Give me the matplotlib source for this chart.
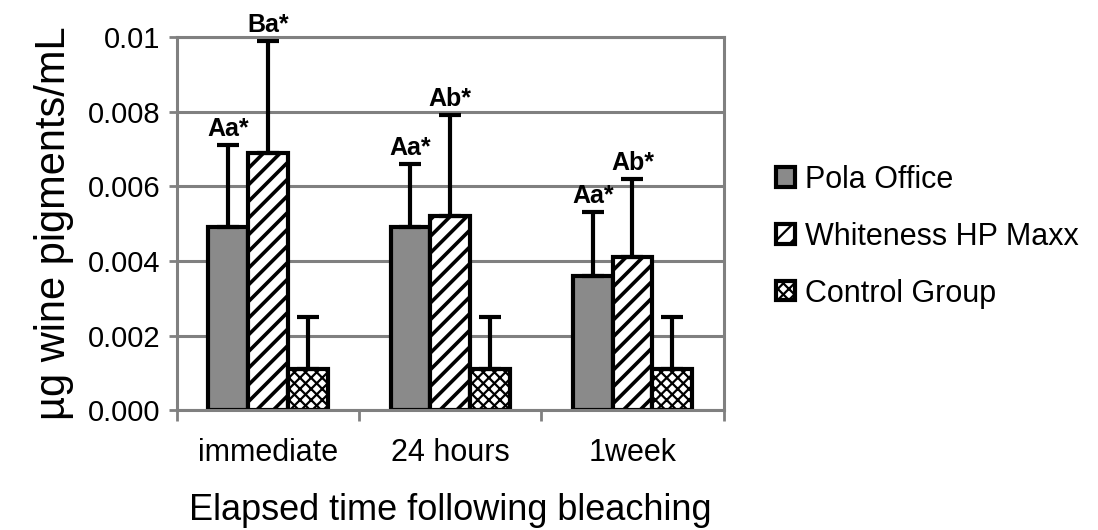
import numpy as np
import matplotlib
matplotlib.use('Agg')
import matplotlib.pyplot as plt

categories = ['immediate', '24 hours', '1week']
series_names = ['Pola Office', 'Whiteness HP Maxx', 'Control Group']

pola = [0.0049, 0.0049, 0.0036]
pola_err = [0.0022, 0.0017, 0.0017]
white = [0.0069, 0.0052, 0.0041]
white_err = [0.0030, 0.0027, 0.0021]
control = [0.0011, 0.0011, 0.0011]
control_err = [0.0014, 0.0014, 0.0014]

pola_labels = ['Aa*', 'Aa*', 'Aa*']
white_labels = ['Ba*', 'Ab*', 'Ab*']

yticks = [0.0, 0.002, 0.004, 0.006, 0.008, 0.01]
yticklabels = ['0.000', '0.002', '0.004', '0.006', '0.008', '0.01']

plt.rcParams['font.family'] = ['Liberation Sans', 'DejaVu Sans']
plt.rcParams['hatch.linewidth'] = 1.6

fig = plt.figure(figsize=(10.98, 5.30), dpi=100)
ax = fig.add_axes([0.161, 0.226, 0.498, 0.704])

x = np.arange(len(categories))
w = 0.218
grey = '#808080'

ax.set_axisbelow(True)
ax.yaxis.grid(True, color=grey, lw=2.2)

err_kw = dict(ecolor='black', elinewidth=3.0, capsize=8, capthick=3.0)
lowerr = [0, 0, 0]

b1 = ax.bar(x - w, pola, w, color='#8a8a8a', edgecolor='black', lw=3.0,
            yerr=[lowerr, pola_err], error_kw=err_kw, label=series_names[0])
with plt.rc_context({'hatch.linewidth': 2.6}):
    b2 = ax.bar(x, white, w, color='white', edgecolor='black', lw=3.0, hatch='//',
                yerr=[lowerr, white_err], error_kw=err_kw, label=series_names[1])
with plt.rc_context({'hatch.linewidth': 1.6}):
    b3 = ax.bar(x + w, control, w, color='white', edgecolor='black', lw=3.0, hatch='xxx',
                yerr=[lowerr, control_err], error_kw=err_kw, label=series_names[2])

for i in range(len(categories)):
    ax.annotate(pola_labels[i], (x[i] - w, pola[i] + pola_err[i]), xytext=(0, 3),
                textcoords='offset points', ha='center', va='bottom',
                fontsize=18, fontweight='bold', annotation_clip=False)
    ax.annotate(white_labels[i], (x[i], white[i] + white_err[i]), xytext=(0, 3),
                textcoords='offset points', ha='center', va='bottom',
                fontsize=18, fontweight='bold', annotation_clip=False)

ax.set_xlim(-0.5, 2.5)
ax.set_ylim(0, 0.01)
ax.set_yticks(yticks)
ax.set_yticklabels(yticklabels)
ax.set_xticks(x)
ax.set_xticklabels(categories)
ax.set_xticks([-0.5, 0.5, 1.5, 2.5], minor=True)
ax.tick_params(axis='x', which='major', length=0, labelsize=22, pad=20)
ax.tick_params(axis='x', which='minor', length=8, width=2, color=grey, direction='out')
ax.tick_params(axis='y', length=6, width=2, color=grey, labelsize=21, pad=6)

for s in ax.spines.values():
    s.set_color(grey)
    s.set_linewidth(2.2)

ax.set_ylabel('µg wine pigments/mL', fontsize=30, labelpad=10)
ax.set_xlabel('Elapsed time following bleaching', fontsize=26, labelpad=18)

fig.legend(handles=[b1, b2, b3], labels=series_names, loc='upper left',
           bbox_to_anchor=(0.693, 0.718), frameon=False, fontsize=22,
           handlelength=0.6, handleheight=0.6, handletextpad=0.35,
           labelspacing=0.88, borderpad=0)

fig.savefig('out.png', dpi=100)
